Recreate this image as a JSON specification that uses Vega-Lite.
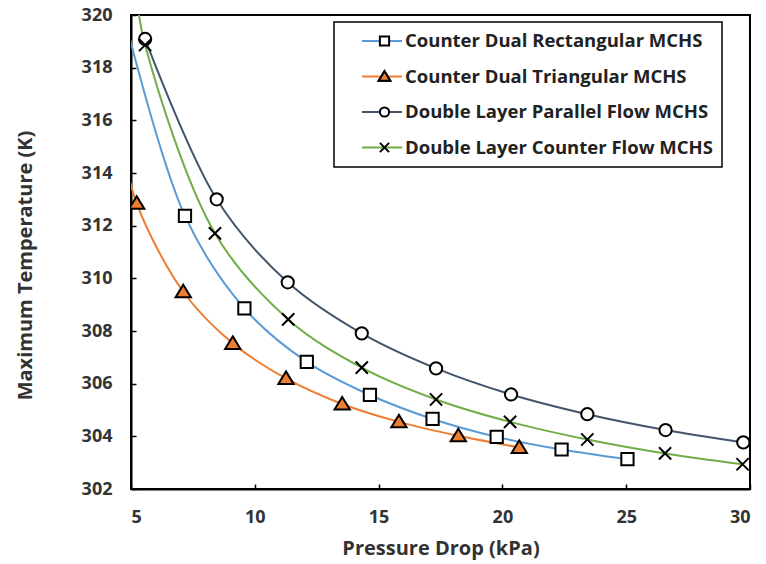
{
  "$schema": "https://vega.github.io/schema/vega-lite/v6.json",
  "width": 619,
  "height": 474,
  "autosize": "none",
  "padding": {"left": 131, "top": 15, "right": 16, "bottom": 75},
  "background": "white",
  "config": {
    "font": "Open Sans",
    "view": {"stroke": "black", "strokeWidth": 2},
    "legend": {"strokeWidth": 1.5},
    "axis": {
      "grid": false,
      "domainColor": "black",
      "domainWidth": 2,
      "tickColor": "black",
      "tickWidth": 1.5,
      "tickSize": -5,
      "labelFont": "Open Sans",
      "labelFontWeight": "bold",
      "labelFontSize": 18,
      "labelColor": "#333333",
      "labelPadding": 24,
      "titleFont": "Open Sans",
      "titleFontWeight": "bold",
      "titleFontSize": 20,
      "titleColor": "#333333"
    }
  },
  "data": {
    "values": [
      {"series": "Counter Dual Rectangular MCHS", "dp": 4.6, "tmax": 320.4},
      {"series": "Counter Dual Rectangular MCHS", "dp": 7.18, "tmax": 312.37},
      {"series": "Counter Dual Rectangular MCHS", "dp": 9.58, "tmax": 308.86},
      {"series": "Counter Dual Rectangular MCHS", "dp": 12.10, "tmax": 306.83},
      {"series": "Counter Dual Rectangular MCHS", "dp": 14.65, "tmax": 305.57},
      {"series": "Counter Dual Rectangular MCHS", "dp": 17.18, "tmax": 304.66},
      {"series": "Counter Dual Rectangular MCHS", "dp": 19.77, "tmax": 303.98},
      {"series": "Counter Dual Rectangular MCHS", "dp": 22.39, "tmax": 303.50},
      {"series": "Counter Dual Rectangular MCHS", "dp": 25.05, "tmax": 303.13},
      {"series": "Counter Dual Triangular MCHS", "dp": 4.65, "tmax": 315.1},
      {"series": "Counter Dual Triangular MCHS", "dp": 5.23, "tmax": 312.85},
      {"series": "Counter Dual Triangular MCHS", "dp": 7.11, "tmax": 309.49},
      {"series": "Counter Dual Triangular MCHS", "dp": 9.11, "tmax": 307.53},
      {"series": "Counter Dual Triangular MCHS", "dp": 11.26, "tmax": 306.20},
      {"series": "Counter Dual Triangular MCHS", "dp": 13.53, "tmax": 305.23},
      {"series": "Counter Dual Triangular MCHS", "dp": 15.82, "tmax": 304.55},
      {"series": "Counter Dual Triangular MCHS", "dp": 18.22, "tmax": 304.02},
      {"series": "Counter Dual Triangular MCHS", "dp": 20.68, "tmax": 303.58},
      {"series": "Double Layer Parallel Flow MCHS", "dp": 5.57, "tmax": 319.09},
      {"series": "Double Layer Parallel Flow MCHS", "dp": 8.46, "tmax": 313.0},
      {"series": "Double Layer Parallel Flow MCHS", "dp": 11.33, "tmax": 309.85},
      {"series": "Double Layer Parallel Flow MCHS", "dp": 14.32, "tmax": 307.91},
      {"series": "Double Layer Parallel Flow MCHS", "dp": 17.32, "tmax": 306.58},
      {"series": "Double Layer Parallel Flow MCHS", "dp": 20.35, "tmax": 305.59},
      {"series": "Double Layer Parallel Flow MCHS", "dp": 23.43, "tmax": 304.84},
      {"series": "Double Layer Parallel Flow MCHS", "dp": 26.59, "tmax": 304.24},
      {"series": "Double Layer Parallel Flow MCHS", "dp": 29.73, "tmax": 303.77},
      {"series": "Double Layer Counter Flow MCHS", "dp": 5.2, "tmax": 320.9},
      {"series": "Double Layer Counter Flow MCHS", "dp": 5.57, "tmax": 318.86},
      {"series": "Double Layer Counter Flow MCHS", "dp": 8.39, "tmax": 311.71},
      {"series": "Double Layer Counter Flow MCHS", "dp": 11.35, "tmax": 308.44},
      {"series": "Double Layer Counter Flow MCHS", "dp": 14.32, "tmax": 306.61},
      {"series": "Double Layer Counter Flow MCHS", "dp": 17.32, "tmax": 305.40},
      {"series": "Double Layer Counter Flow MCHS", "dp": 20.31, "tmax": 304.55},
      {"series": "Double Layer Counter Flow MCHS", "dp": 23.43, "tmax": 303.88},
      {"series": "Double Layer Counter Flow MCHS", "dp": 26.57, "tmax": 303.35},
      {"series": "Double Layer Counter Flow MCHS", "dp": 29.70, "tmax": 302.94}
    ]
  },
  "encoding": {
    "x": {
      "field": "dp",
      "type": "quantitative",
      "scale": {"domain": [5, 30], "nice": false, "zero": false},
      "axis": {"values": [5, 10, 15, 20, 25, 30], "title": "Pressure Drop (kPa)", "titlePadding": 12}
    },
    "y": {
      "field": "tmax",
      "type": "quantitative",
      "scale": {"domain": [302, 320], "nice": false, "zero": false},
      "axis": {"values": [302, 304, 306, 308, 310, 312, 314, 316, 318, 320], "title": "Maximum Temperature (K)", "titlePadding": 46, "titleY": 250}
    }
  },
  "layer": [
    {
      "mark": {"type": "line", "interpolate": "catmull-rom", "strokeWidth": 2, "clip": true},
      "encoding": {
        "stroke": {
          "field": "series",
          "type": "nominal",
          "scale": {
            "domain": ["Counter Dual Rectangular MCHS", "Counter Dual Triangular MCHS", "Double Layer Parallel Flow MCHS", "Double Layer Counter Flow MCHS"],
            "range": ["#5B9BD5", "#ED7D31", "#44546A", "#70AD47"]
          },
          "legend": {
            "title": null,
            "orient": "none",
            "legendX": 203,
            "legendY": 7,
            "zindex": 1,
            "symbolType": "stroke",
            "symbolSize": 1600,
            "symbolStrokeWidth": 2,
            "symbolOffset": 18,
            "labelOffset": 2,
            "labelFont": "Open Sans",
            "labelFontWeight": "bold",
            "labelFontSize": 18.5,
            "labelColor": "#222222",
            "labelLimit": 400,
            "strokeColor": "black",
            "fillColor": "white",
            "padding": 9,
            "clipHeight": 20,
            "rowPadding": 15.5
          }
        }
      }
    },
    {
      "mark": {"type": "point", "filled": true, "size": 150, "stroke": "black", "strokeWidth": 2, "opacity": 1, "clip": true},
      "encoding": {
        "shape": {
          "field": "series",
          "type": "nominal",
          "sort": ["Counter Dual Rectangular MCHS", "Counter Dual Triangular MCHS", "Double Layer Parallel Flow MCHS", "Double Layer Counter Flow MCHS"],
          "scale": {"range": ["square", "M0,-1.15L1.25,0.9L-1.25,0.9Z", "circle", "M-1,-1L1,1M-1,1L1,-1"]},
          "legend": {
            "title": null,
            "orient": "none",
            "legendX": 236,
            "legendY": 7,
            "zindex": 2,
            "symbolSize": 85,
            "symbolFillColor": "white",
            "symbolStrokeColor": "black",
            "symbolStrokeWidth": 2,
            "symbolOpacity": 1,
            "labelExpr": "''",
            "labelFontSize": 17,
            "padding": 9,
            "clipHeight": 20,
            "rowPadding": 15.5
          }
        },
        "fill": {
          "field": "series",
          "type": "nominal",
          "sort": ["Counter Dual Rectangular MCHS", "Counter Dual Triangular MCHS", "Double Layer Parallel Flow MCHS", "Double Layer Counter Flow MCHS"],
          "scale": {"range": ["white", "#ED7D31", "white", "transparent"]},
          "legend": {
            "title": null,
            "orient": "none",
            "legendX": 236,
            "legendY": 42.5,
            "zindex": 3,
            "values": ["Counter Dual Triangular MCHS"],
            "symbolType": "M0,-1.15L1.25,0.9L-1.25,0.9Z",
            "symbolSize": 85,
            "symbolStrokeColor": "black",
            "symbolStrokeWidth": 2,
            "symbolOpacity": 1,
            "labelExpr": "''",
            "labelFontSize": 17,
            "padding": 9,
            "clipHeight": 20,
            "rowPadding": 15.5
          }
        }
      }
    }
  ]
}
